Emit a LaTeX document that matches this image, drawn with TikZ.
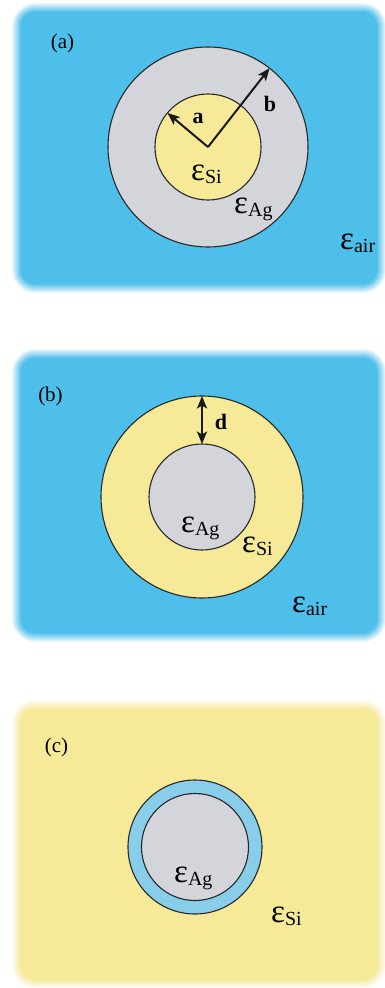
\documentclass[tikz,border=0pt]{standalone}
\usepackage{fontspec}
\setmainfont{Liberation Serif}
\usetikzlibrary{arrows.meta}
\definecolor{airblue}{RGB}{78,191,235}
\definecolor{agray}{RGB}{211,213,218}
\definecolor{siyel}{RGB}{246,234,153}
\definecolor{ringblue}{RGB}{136,206,234}
\definecolor{edgegray}{RGB}{40,40,40}
\newcommand\epslab[1]{{\fontsize{33}{33}\selectfont ε}\raisebox{-3pt}{\fontsize{20}{20}\selectfont #1}}
\newcommand\softpanel[5]{%
  \foreach \j in {1,...,10}{%
    \pgfmathsetmacro\ins{\j-6}%
    \pgfmathsetmacro\op{1/(11-\j)}%
    \pgfmathsetmacro\rr{18-\ins}%
    \fill[#1, opacity=\op, rounded corners=\rr pt] (#2+\ins,#3+\ins) rectangle (#4-\ins,#5-\ins);
  }}
\tikzset{
  circ/.style={circle, draw=edgegray, line width=1.1pt, inner sep=0pt, outer sep=0pt},
  lab/.style={inner sep=0pt, anchor=base west},
  tag/.style={inner sep=0pt, anchor=base, font=\fontsize{21}{21}\selectfont},
  dim/.style={inner sep=0pt, anchor=base, font=\fontsize{22}{22}\selectfont\bfseries},
  arr/.style={-{Stealth[length=12.5pt,width=10pt,inset=3pt]}, line width=2pt, black!90},
  darr/.style={{Stealth[length=12.5pt,width=10pt,inset=3pt]}-{Stealth[length=12.5pt,width=10pt,inset=3pt]}, line width=2pt, black!90}
}
\begin{document}
\begin{tikzpicture}[x=1pt,y=-1pt]
\useasboundingbox (0,0) rectangle (385,988);
\fill[white] (0,0) rectangle (385,988);
% panels
\softpanel{airblue}{17}{8}{381}{288}
\softpanel{airblue}{17}{354}{381}{637}
\softpanel{siyel}{17}{705}{381}{983}
% panel (a)
\node[circ, fill=agray, minimum size=200pt] (outA) at (208,147) {};
\node[circ, fill=siyel, minimum size=106pt] (inA) at (208,147) {};
\coordinate (cA) at (208,147);
\draw[arr] (cA) -- (inA.140.5);
\draw[arr] (cA) -- (outA.52.4);
\node[dim] (la) at (198,123) {a};
\node[dim] (lb) at (270,111) {b};
\node[tag] (ta) at (62.5,48) {(a)};
\node[lab] (siA) at (191,180) {\epslab{Si}};
\node[lab] (agA) at (234,213) {\epslab{Ag}};
\node[lab] (airA) at (340,249) {\epslab{air}};
% panel (b)
\node[circ, fill=siyel, minimum size=202pt] (outB) at (202,497) {};
\node[circ, fill=agray, minimum size=106pt] (inB) at (202,497) {};
\draw[darr] (inB.north) -- (outB.north);
\node[dim] (ld) at (221,429) {d};
\node[tag] (tb) at (50.5,401) {(b)};
\node[lab] (agB) at (181,532) {\epslab{Ag}};
\node[lab] (siB) at (242,552) {\epslab{Si}};
\node[lab] (airB) at (292,612) {\epslab{air}};
% panel (c)
\node[circ, fill=ringblue, minimum size=134pt] (outC) at (195,847) {};
\node[circ, fill=agray, minimum size=107pt] (inC) at (195,847) {};
\node[tag] (tc) at (56.5,752) {(c)};
\node[lab] (agC) at (174,882) {\epslab{Ag}};
\node[lab] (siC) at (271,922) {\epslab{Si}};
\end{tikzpicture}
\end{document}
